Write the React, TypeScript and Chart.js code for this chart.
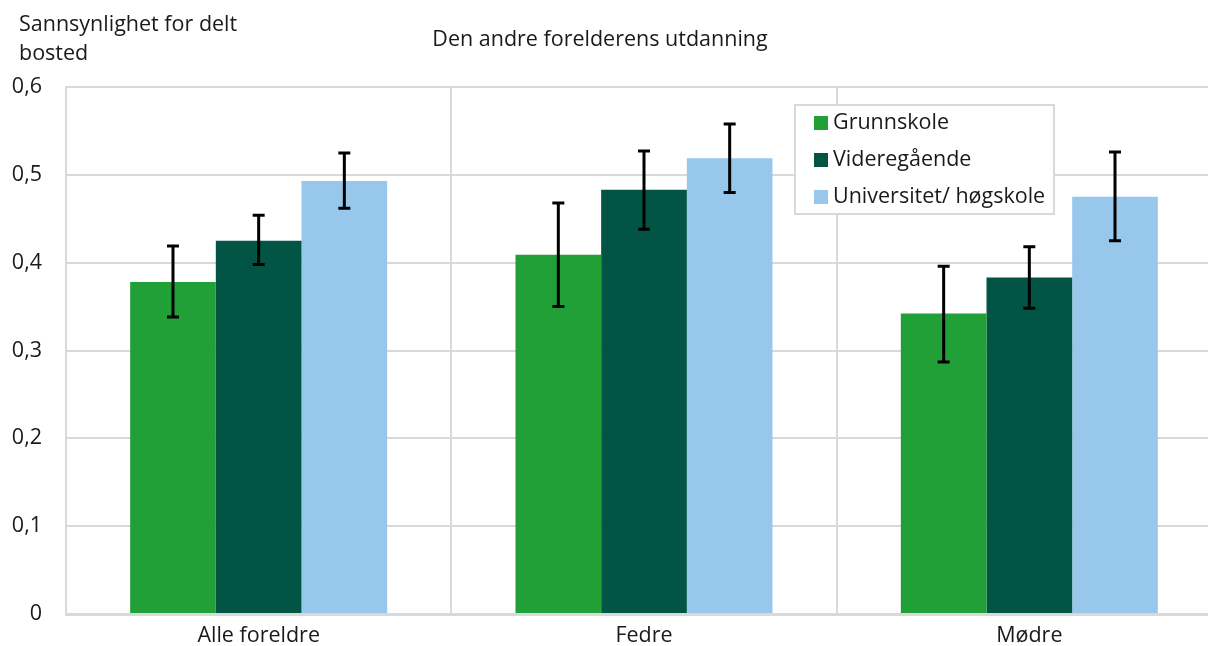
import React, { useEffect, useRef } from "react";
import { Chart, registerables } from "chart.js";

Chart.register(...registerables);

const categories = ["Alle foreldre", "Fedre", "Mødre"];
const seriesNames = ["Grunnskole", "Videregående", "Universitet/ høgskole"];
const seriesColors = ["#21a038", "#025444", "#98c7ec"];

const grunnskole = [0.378, 0.409, 0.342];
const videregaende = [0.425, 0.483, 0.383];
const universitet = [0.493, 0.519, 0.475];

const grunnskoleLow = [0.338, 0.35, 0.287];
const grunnskoleHigh = [0.419, 0.468, 0.396];
const videregaendeLow = [0.398, 0.438, 0.348];
const videregaendeHigh = [0.454, 0.527, 0.418];
const universitetLow = [0.462, 0.48, 0.425];
const universitetHigh = [0.525, 0.558, 0.526];

const yTicks = [0, 0.1, 0.2, 0.3, 0.4, 0.5, 0.6];

const titleText = "Den andre forelderens utdanning";
const yTitleLines = ["Sannsynlighet for delt", "bosted"];

const FONT = "'Open Sans', 'Noto Sans', sans-serif";
const FS = 21.5;
const TEXT = "#1a1a1a";

export default function App() {
  const ref = useRef<HTMLCanvasElement | null>(null);

  useEffect(() => {
    if (!ref.current) return;
    const values = [grunnskole, videregaende, universitet];
    const lows = [grunnskoleLow, videregaendeLow, universitetLow];
    const highs = [grunnskoleHigh, videregaendeHigh, universitetHigh];

    const errorBars = {
      id: "errorBars",
      afterDatasetsDraw(chart: any) {
        const ctx = chart.ctx;
        const y = chart.scales.y;
        ctx.save();
        ctx.strokeStyle = "#000";
        ctx.lineWidth = 3;
        chart.data.datasets.forEach((_: any, di: number) => {
          const meta = chart.getDatasetMeta(di);
          meta.data.forEach((bar: any, i: number) => {
            const x = bar.x;
            const yl = y.getPixelForValue(lows[di][i]);
            const yh = y.getPixelForValue(highs[di][i]);
            ctx.beginPath();
            ctx.moveTo(x, yl);
            ctx.lineTo(x, yh);
            ctx.moveTo(x - 6, yl);
            ctx.lineTo(x + 6, yl);
            ctx.moveTo(x - 6, yh);
            ctx.lineTo(x + 6, yh);
            ctx.stroke();
          });
        });
        ctx.restore();
      },
    };

    const decorations = {
      id: "decorations",
      afterDraw(chart: any) {
        const ctx = chart.ctx;
        ctx.save();
        ctx.fillStyle = TEXT;
        ctx.font = `${FS}px ${FONT}`;
        ctx.textBaseline = "middle";
        ctx.textAlign = "center";
        ctx.fillText(titleText, 600, 40);
        ctx.textAlign = "left";
        yTitleLines.forEach((l, i) => ctx.fillText(l, 19, 25 + i * 29));

        // legend
        const lx = 795, ly = 105, lw = 259, lh = 109;
        ctx.fillStyle = "#fff";
        ctx.fillRect(lx, ly, lw, lh);
        ctx.strokeStyle = "#d9d9d9";
        ctx.lineWidth = 2;
        ctx.strokeRect(lx, ly, lw, lh);
        chart.data.datasets.forEach((ds: any, i: number) => {
          const cy = 123 + i * 37;
          ctx.fillStyle = ds.backgroundColor;
          ctx.fillRect(814, cy - 7, 14, 14);
          ctx.fillStyle = TEXT;
          ctx.fillText(ds.label, 833, cy);
        });
        ctx.restore();
      },
    };

    const chart = new Chart(ref.current, {
      type: "bar",
      data: {
        labels: categories,
        datasets: seriesNames.map((name, i) => ({
          label: name,
          data: values[i],
          backgroundColor: seriesColors[i],
          borderWidth: 0,
          categoryPercentage: 0.667,
          barPercentage: 1,
        })),
      },
      options: {
        animation: false,
        responsive: false,
        maintainAspectRatio: false,
        layout: { padding: { top: 87, left: 0, right: 0, bottom: 0 } },
        plugins: {
          legend: { display: false },
          tooltip: { enabled: false },
          title: { display: false },
        },
        scales: {
          x: {
            grid: {
              color: "#d9d9d9",
              lineWidth: 2,
              drawTicks: false,
              offset: true,
            },
            border: { color: "#d9d9d9", width: 3 },
            ticks: {
              color: TEXT,
              font: { family: FONT, size: FS, lineHeight: 1 },
              padding: 11,
            },
            afterFit(scale: any) {
              scale.height = 32;
            },
          },
          y: {
            min: 0,
            max: 0.6,
            afterBuildTicks(scale: any) {
              scale.ticks = yTicks.map((v) => ({ value: v }));
            },
            grid: { color: "#d9d9d9", lineWidth: 2, drawTicks: false },
            border: { color: "#d9d9d9", width: 2 },
            ticks: {
              color: TEXT,
              font: { family: FONT, size: FS, lineHeight: 1 },
              padding: 24,
              callback: (v: any) =>
                Number(v) === 0 ? "0" : Number(v).toFixed(1).replace(".", ","),
            },
            afterFit(scale: any) {
              scale.width = 66;
              scale.paddingTop = 0;
              scale.paddingBottom = 0;
              scale.getPadding = () => ({ left: 0, top: 0, right: 0, bottom: 0 });
            },
          },
        },
      },
      plugins: [errorBars, decorations],
    });
    return () => chart.destroy();
  }, []);

  return (
    <div
      style={{
        position: "fixed",
        left: 0,
        top: 0,
        width: 1208,
        height: 646,
        overflow: "hidden",
        background: "#fff",
      }}
    >
      <canvas ref={ref} width={1222} height={646} style={{ display: "block" }} />
    </div>
  );
}
